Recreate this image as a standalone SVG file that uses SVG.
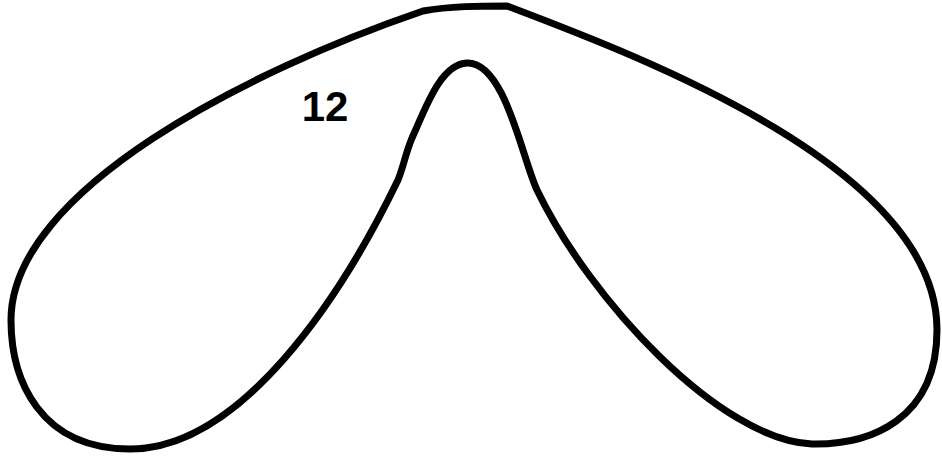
<svg xmlns="http://www.w3.org/2000/svg" width="942" height="457" viewBox="0 0 942 457">
<style>
.shape{fill:none;stroke:#000;stroke-width:7;stroke-linejoin:round}
.lbl{font-family:"Liberation Sans",Arial,sans-serif;font-weight:bold;font-size:42px;fill:#000}
</style>
<rect width="942" height="457" fill="#fff"/>
<g id="region12">
<path class="shape" d="M507,6 C650,60 937,170 937,330 C937,420 870,445 812,444 C720,440 590,300 537,190 C522,158 505,62 467,63 C440,64 425,110 412,138 C405,155 404,165 398,180 C340,300 240,449 130,449 C40,449 11,380 11,320 C11,190 250,70 423,11 C450,6 480,6 507,6 Z"/>
<text class="lbl" x="325" y="121" text-anchor="middle">12</text>
</g>
</svg>
